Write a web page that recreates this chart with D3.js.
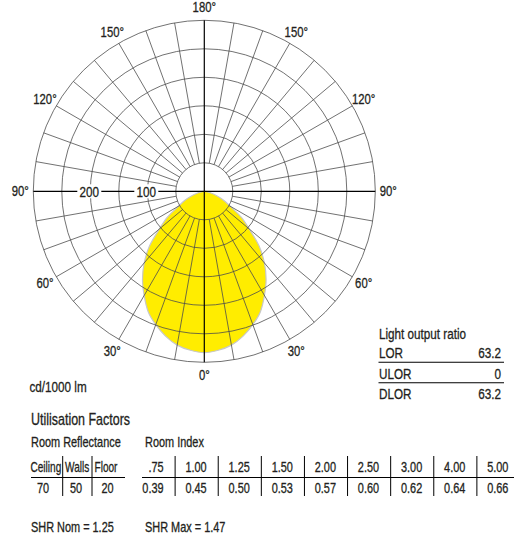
<!DOCTYPE html>
<html>
<head>
<meta charset="utf-8">
<script src="https://cdn.jsdelivr.net/npm/d3@7"></script>
<style>
  html, body { margin: 0; padding: 0; background: #fff; }
  svg { display: block; }
  text { font-family: "Liberation Sans", Arial, sans-serif; fill: #231f20; stroke: #231f20; stroke-width: 0.3px; }
</style>
</head>
<body>
<script>
// polar curve, cd/1000 lm, angle measured from nadir (0) up to horizontal (90)
const angles = [0, 5, 10, 15, 20, 25, 30, 35, 40, 45, 50, 55, 60, 65, 70, 75, 80, 85, 90];
const intensity = [283, 280, 274, 263, 249, 233, 211, 189, 164, 136, 103, 79, 52, 38, 24, 13, 6, 2, 0];

const ringValues = [50, 100, 150, 200, 250, 300];
const ringLabels = [100, 200];
const angleLabels = [0, 30, 60, 90, 120, 150, 180];

const lorNames = ["LOR", "ULOR", "DLOR"];
const lorValues = ["63.2", "0", "63.2"];

const reflectanceNames = ["Ceiling", "Walls", "Floor"];
const reflectanceValues = ["70", "50", "20"];

const roomIndex = [".75", "1.00", "1.25", "1.50", "2.00", "2.50", "3.00", "4.00", "5.00"];
const utilisation = ["0.39", "0.45", "0.50", "0.53", "0.57", "0.60", "0.62", "0.64", "0.66"];

const shrNom = "1.25";
const shrMax = "1.47";

var width = 514;
var height = 538;
var cx = 204.3;
var cy = 191.3;
var sx = 0.78;   // squeeze to look like the condensed face of the original
var rad = d3.scaleLinear().domain([0, 300]).range([0, 171]);
var deg = d => d * Math.PI / 180;

function tr(x, y, s) {
    return `translate(${x},${y}) scale(${s || sx},1)`;
}

function addText(parent, x, y, str, size, anchor) {
    return parent.append("text")
        .attr("transform", tr(x, y))
        .attr("font-size", size)
        .attr("text-anchor", anchor || "start")
        .text(str);
}

function createPolar(svg) {
    const g = svg.append("g").attr("transform", `translate(${cx},${cy})`);

    // yellow distribution, right side then mirrored left side
    const pts = [];
    for (let i = angles.length - 1; i >= 0; i--) pts.push([Math.PI - deg(angles[i]), rad(intensity[i])]);
    for (let i = 1; i < angles.length; i++) pts.push([Math.PI + deg(angles[i]), rad(intensity[i])]);

    const line = d3.lineRadial()
        .angle(d => d[0])
        .radius(d => d[1])
        .curve(d3.curveCatmullRom.alpha(0.5));

    g.append("path")
        .attr("d", line(pts) + "Z")
        .attr("fill", "#ffed00")
        .attr("stroke", "#c8c8c8")
        .attr("stroke-width", 1.2);

    // rings
    g.append("g")
        .selectAll("circle")
        .data(ringValues)
        .join("circle")
        .attr("r", d => rad(d))
        .attr("fill", "none")
        .attr("stroke", "#4d4d4d")
        .attr("stroke-width", 0.8);

    // spokes every 10 degrees
    const spokes = d3.range(0, 360, 10).filter(a => a % 90 != 0);
    g.append("g")
        .selectAll("line")
        .data(spokes)
        .join("line")
        .attr("x1", a => rad(50) * Math.sin(deg(a)))
        .attr("y1", a => -rad(50) * Math.cos(deg(a)))
        .attr("x2", a => rad(300) * Math.sin(deg(a)))
        .attr("y2", a => -rad(300) * Math.cos(deg(a)))
        .attr("stroke", "#4d4d4d")
        .attr("stroke-width", 0.8);

    // main axes
    g.append("line")
        .attr("x1", -rad(300)).attr("x2", rad(300))
        .attr("stroke", "#000").attr("stroke-width", 1.2);
    g.append("line")
        .attr("y1", -rad(300)).attr("y2", rad(300))
        .attr("stroke", "#000").attr("stroke-width", 1.2);

    // intensity labels on the left axis
    const rl = g.append("g")
        .selectAll("g")
        .data(ringLabels)
        .join("g")
        .attr("transform", d => `translate(${-rad(d) - 1},0)`);
    rl.append("rect")
        .attr("x", -12).attr("y", -7).attr("width", 24).attr("height", 14)
        .attr("fill", "#fff");
    rl.append("text")
        .attr("transform", tr(0, 5.2))
        .attr("text-anchor", "middle")
        .attr("font-size", 15)
        .text(d => d);

    // angle labels on both sides
    const lab = [];
    angleLabels.forEach(a => {
        lab.push(a);
        if (a != 0 && a != 180) lab.push(-a);
    });
    g.append("g")
        .selectAll("text")
        .data(lab)
        .join("text")
        .attr("transform", a => tr(184 * Math.sin(deg(a)), 184 * Math.cos(deg(a)) + 5))
        .attr("text-anchor", "middle")
        .attr("font-size", 14.5)
        .text(a => Math.abs(a) + "°");
}

function createTables(svg) {
    addText(svg, 29.5, 391.5, "cd/1000 lm", 15);

    // light output ratio
    addText(svg, 379, 339, "Light output ratio", 15);
    const rowY = d3.scalePoint().domain(lorNames).range([358, 399]);
    svg.append("g").selectAll("text").data(lorNames).join("text")
        .attr("transform", d => tr(379, rowY(d))).attr("font-size", 15).text(d => d);
    svg.append("g").selectAll("text").data(lorValues).join("text")
        .attr("transform", (d, i) => tr(501, rowY(lorNames[i])))
        .attr("text-anchor", "end").attr("font-size", 15).text(d => d);
    svg.append("g").selectAll("line").data(lorNames.slice(0, 2)).join("line")
        .attr("x1", 378.5).attr("x2", 504)
        .attr("y1", d => rowY(d) + 4.2).attr("y2", d => rowY(d) + 4.2)
        .attr("stroke", "#000").attr("stroke-width", 1.1);

    // utilisation factors
    addText(svg, 31, 425, "Utilisation Factors", 16);
    addText(svg, 31, 447, "Room Reflectance", 14);
    addText(svg, 145, 447, "Room Index", 14);

    const headY = 471.5, valY = 493, ruleY = 477.5;

    // reflectance table
    const rx = d3.scaleOrdinal().domain(reflectanceNames).range([30.5, 65, 94.5]);
    const rc = d3.scaleOrdinal().domain(reflectanceNames).range([43, 76, 107.5]);
    svg.append("g").selectAll("text").data(reflectanceNames).join("text")
        .attr("transform", d => tr(rx(d), headY, 0.72)).attr("font-size", 14).text(d => d);
    svg.append("g").selectAll("text").data(reflectanceValues).join("text")
        .attr("transform", (d, i) => tr(rc(reflectanceNames[i]), valY))
        .attr("text-anchor", "middle").attr("font-size", 14).text(d => d);
    svg.append("line").attr("x1", 31).attr("x2", 125).attr("y1", ruleY).attr("y2", ruleY)
        .attr("stroke", "#000").attr("stroke-width", 1.1);
    svg.append("g").selectAll("line").data([62.7, 92]).join("line")
        .attr("x1", d => d).attr("x2", d => d).attr("y1", 456).attr("y2", 496)
        .attr("stroke", "#000").attr("stroke-width", 1);

    // room index table
    const bx = d3.scaleBand().domain(roomIndex).range([132, 520]);
    svg.append("g").selectAll("text").data(roomIndex).join("text")
        .attr("transform", d => tr(bx(d) + bx.bandwidth() / 2 + 10, headY))
        .attr("text-anchor", "end").attr("font-size", 14).text(d => d);
    svg.append("g").selectAll("text").data(utilisation).join("text")
        .attr("transform", (d, i) => tr(bx(roomIndex[i]) + bx.bandwidth() / 2 + 10, valY))
        .attr("text-anchor", "end").attr("font-size", 14).text(d => d);
    svg.append("line").attr("x1", 142).attr("x2", 514).attr("y1", ruleY).attr("y2", ruleY)
        .attr("stroke", "#000").attr("stroke-width", 1.1);
    svg.append("g").selectAll("line").data(roomIndex.slice(1)).join("line")
        .attr("x1", d => bx(d)).attr("x2", d => bx(d)).attr("y1", 456).attr("y2", 496)
        .attr("stroke", "#000").attr("stroke-width", 1);

    addText(svg, 31, 531.5, "SHR Nom = " + shrNom, 14);
    addText(svg, 145, 531.5, "SHR Max = " + shrMax, 14);
}

const svg = d3.select("body").append("svg")
    .attr("width", width)
    .attr("height", height)
    .attr("viewBox", [0, 0, width, height]);

createPolar(svg);
createTables(svg);
</script>
</body>
</html>
